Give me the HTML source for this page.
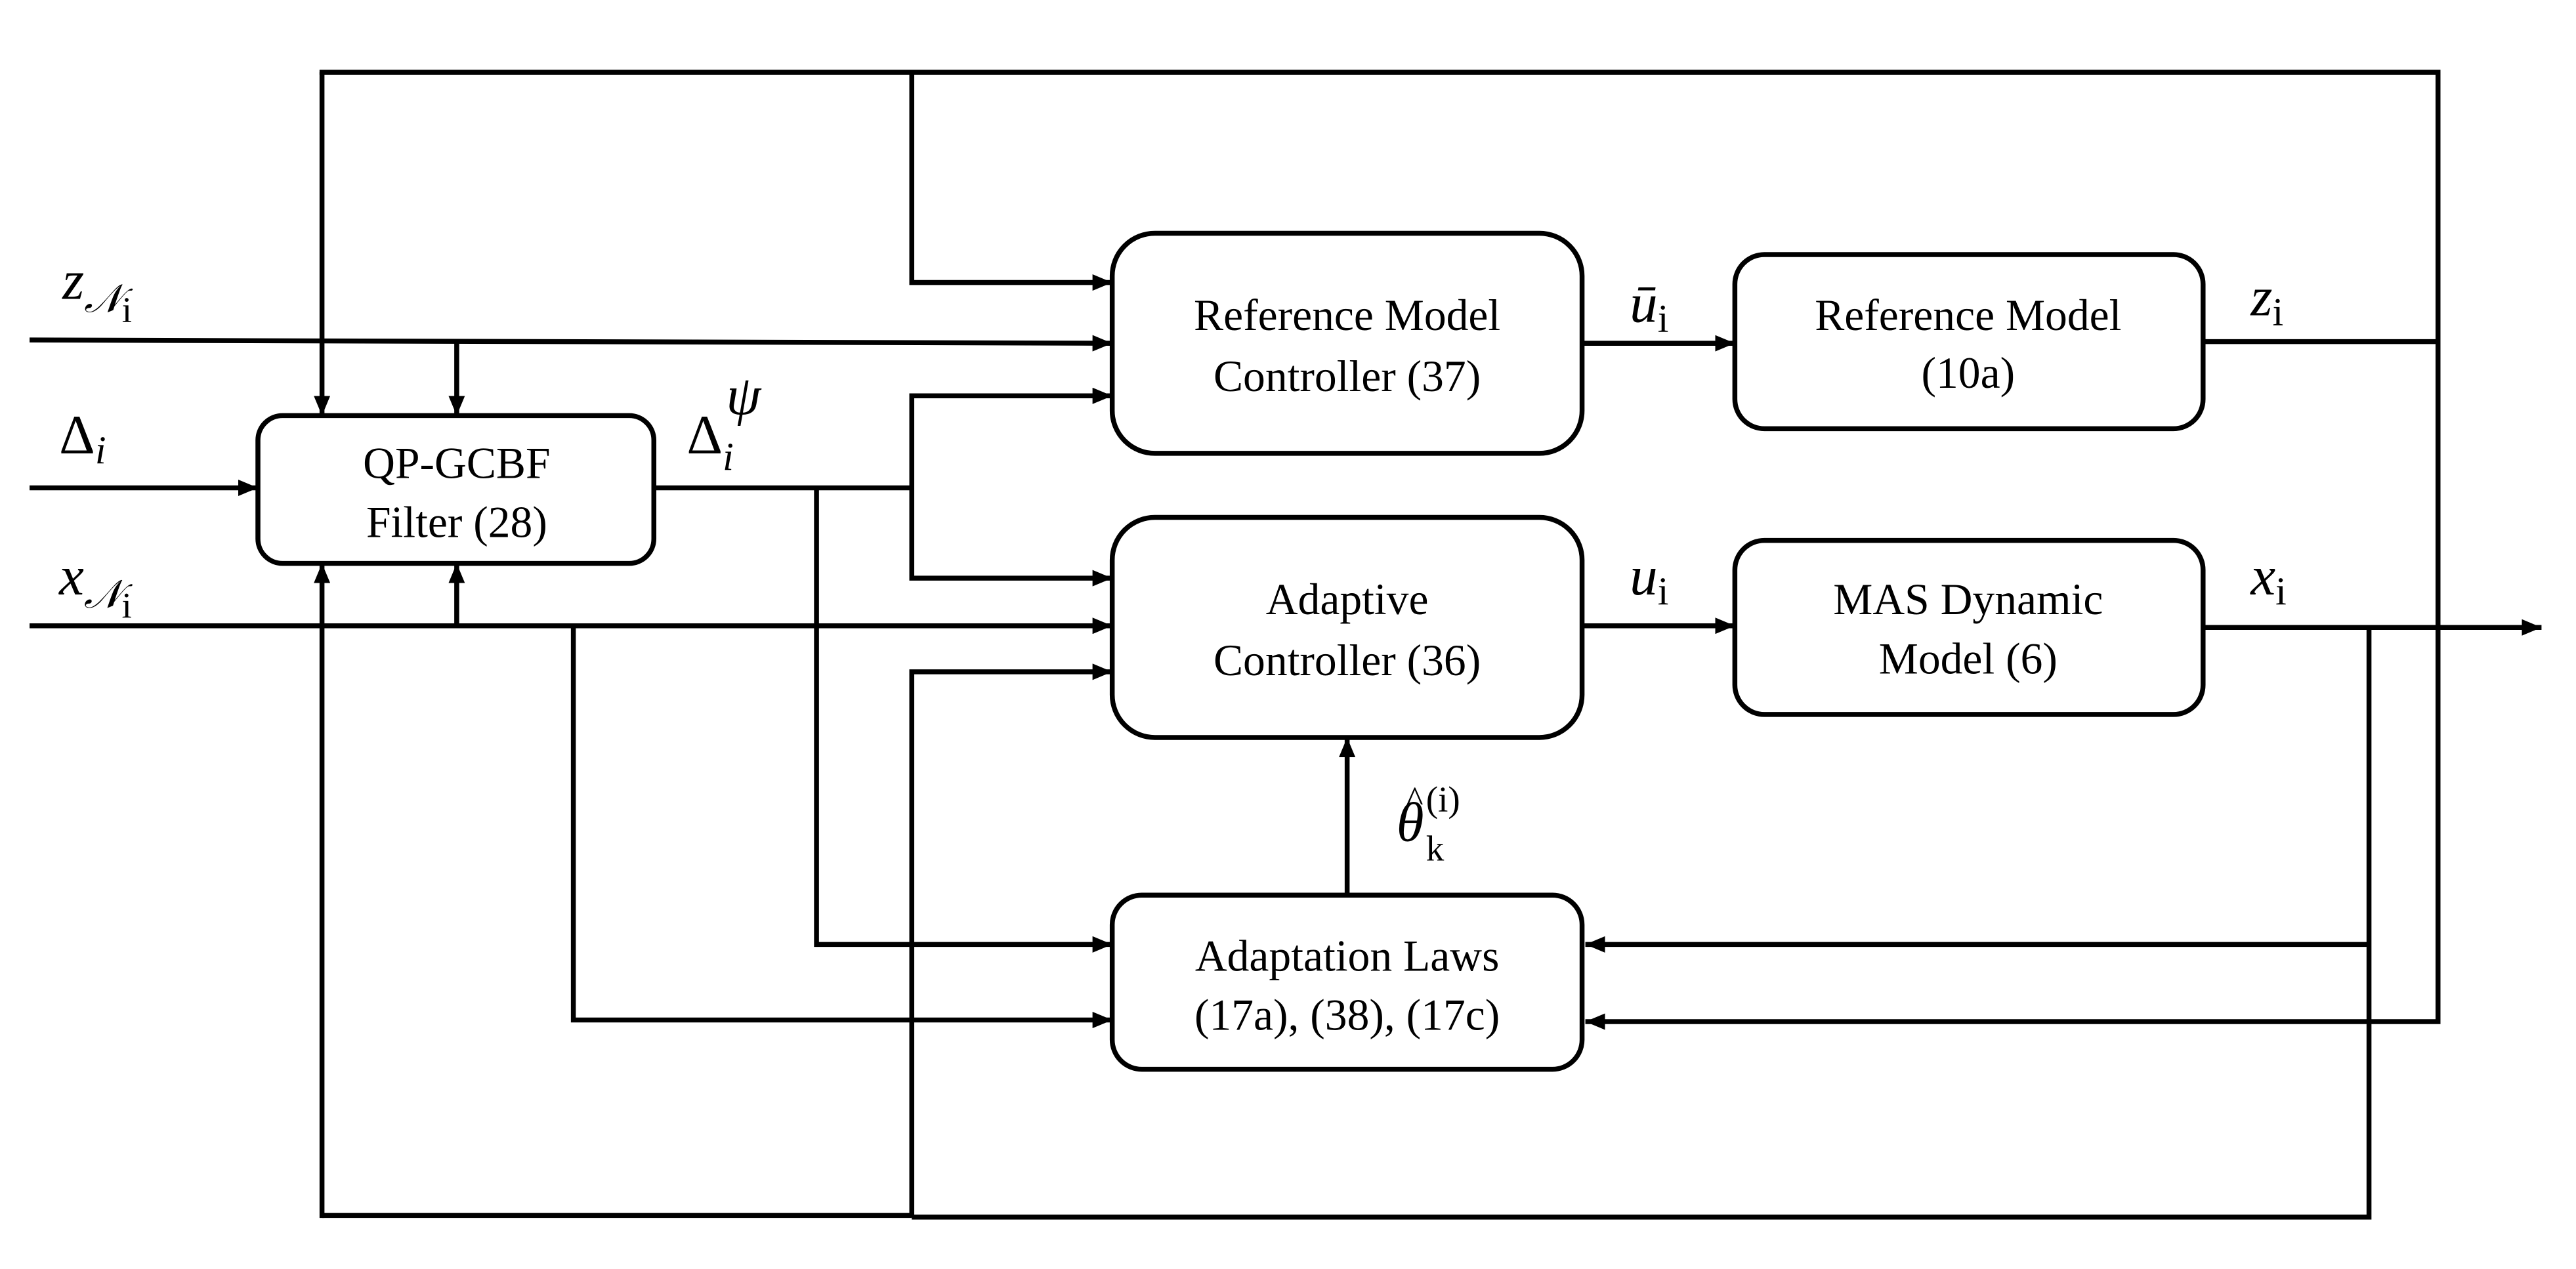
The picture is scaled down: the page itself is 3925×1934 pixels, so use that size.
<!DOCTYPE html>
<html><head><meta charset="utf-8"><style>
html,body{margin:0;padding:0;background:#fff;}
svg{display:block;}
.t{font-family:"Liberation Serif",serif;font-size:27px;fill:#000;}
.m{font-family:"Liberation Serif",serif;font-style:italic;font-size:34px;fill:#000;}
.n{font-family:"Liberation Serif",serif;font-size:22px;fill:#000;}
</style></head><body>
<svg width="3925" height="1934" viewBox="0 0 1568 772.6" xmlns="http://www.w3.org/2000/svg">
<defs>
<marker id="a" markerWidth="12" markerHeight="10" refX="12" refY="5" orient="auto" markerUnits="userSpaceOnUse">
<path d="M0,0 L12,5 L0,10 z" fill="#000"/></marker>
</defs>
<g fill="none" stroke="#000" stroke-width="3">
<rect x="677" y="142" width="286" height="134" rx="26"/>
<rect x="1056" y="155" width="285" height="106" rx="18"/>
<rect x="677" y="315" width="286" height="134" rx="26"/>
<rect x="1056" y="329" width="285" height="106" rx="18"/>
<rect x="677" y="545" width="286" height="106" rx="18"/>
<rect x="157" y="253" width="241" height="90" rx="15"/>
</g>
<g fill="none" stroke="#000" stroke-width="3" stroke-linejoin="miter">
<polyline points="196,44 196,253" marker-end="url(#a)"/>
<polyline points="194.5,44 1484,44 1484,622 965,622" marker-end="url(#a)"/>
<polyline points="555,44 555,172 677,172" marker-end="url(#a)"/>
<line x1="18" y1="207" x2="677" y2="209" marker-end="url(#a)"/>
<line x1="278" y1="208" x2="278" y2="253" marker-end="url(#a)"/>
<line x1="18" y1="297" x2="157" y2="297" marker-end="url(#a)"/>
<polyline points="398,297 555,297"/>
<polyline points="555,297 555,241 677,241" marker-end="url(#a)"/>
<polyline points="555,297 555,352 677,352" marker-end="url(#a)"/>
<polyline points="497,297 497,575 677,575" marker-end="url(#a)"/>
<line x1="18" y1="381" x2="677" y2="381" marker-end="url(#a)"/>
<line x1="278" y1="381" x2="278" y2="343" marker-end="url(#a)"/>
<polyline points="349,381 349,621 677,621" marker-end="url(#a)"/>
<polyline points="196,740 555,740"/>
<line x1="196" y1="741.5" x2="196" y2="343" marker-end="url(#a)"/>
<polyline points="1442,382 1442,741 555,741"/>
<polyline points="555,741 555,409 677,409" marker-end="url(#a)"/>
<line x1="963" y1="209" x2="1056" y2="209" marker-end="url(#a)"/>
<line x1="1341" y1="208" x2="1484" y2="208"/>
<line x1="963" y1="381" x2="1056" y2="381" marker-end="url(#a)"/>
<line x1="1341" y1="382" x2="1547" y2="382" marker-end="url(#a)"/>
<line x1="1442" y1="575" x2="965" y2="575" marker-end="url(#a)"/>
<line x1="820" y1="545" x2="820" y2="449" marker-end="url(#a)"/>
</g>
<text class="t" x="820" y="201" text-anchor="middle">Reference Model</text>
<text class="t" x="820" y="238" text-anchor="middle">Controller (37)</text>
<text class="t" x="1198" y="201" text-anchor="middle">Reference Model</text>
<text class="t" x="1198" y="236" text-anchor="middle">(10a)</text>
<text class="t" x="820" y="374" text-anchor="middle">Adaptive</text>
<text class="t" x="820" y="411" text-anchor="middle">Controller (36)</text>
<text class="t" x="1198" y="374" text-anchor="middle">MAS Dynamic</text>
<text class="t" x="1198" y="410" text-anchor="middle">Model (6)</text>
<text class="t" x="820" y="591" text-anchor="middle">Adaptation Laws</text>
<text class="t" x="820" y="627" text-anchor="middle">(17a), (38), (17c)</text>
<text class="t" x="278" y="291" text-anchor="middle">QP-GCBF</text>
<text class="t" x="278" y="327" text-anchor="middle">Filter (28)</text>
<text class="m" x="38" y="182">z<tspan font-size="24" dy="8">𝒩</tspan><tspan font-style="normal" font-size="22" dy="6">i</tspan></text>
<text class="m" x="36" y="276"><tspan font-style="normal">Δ</tspan><tspan font-size="24" dy="6">i</tspan></text>
<text class="m" x="36" y="362">x<tspan font-size="24" dy="8">𝒩</tspan><tspan font-style="normal" font-size="22" dy="6">i</tspan></text>
<text class="m" x="418" y="276"><tspan font-style="normal">Δ</tspan><tspan font-size="24" dy="10">i</tspan></text>
<text class="m" x="442" y="252" font-size="24">ψ</text>
<text class="m" x="992" y="196">ū<tspan font-style="normal" font-size="24" dy="6">i</tspan></text>
<text class="m" x="992" y="362">u<tspan font-style="normal" font-size="24" dy="6">i</tspan></text>
<text class="m" x="1370" y="192">z<tspan font-style="normal" font-size="24" dy="6">i</tspan></text>
<text class="m" x="1370" y="362">x<tspan font-style="normal" font-size="24" dy="6">i</tspan></text>
<text class="m" x="850" y="512">θ</text>
<text class="n" x="856" y="494" font-size="26">^</text>
<text class="n" x="868" y="524" font-size="24">k</text>
<text class="n" x="868" y="494" font-size="24">(i)</text>
</svg>
</body></html>
